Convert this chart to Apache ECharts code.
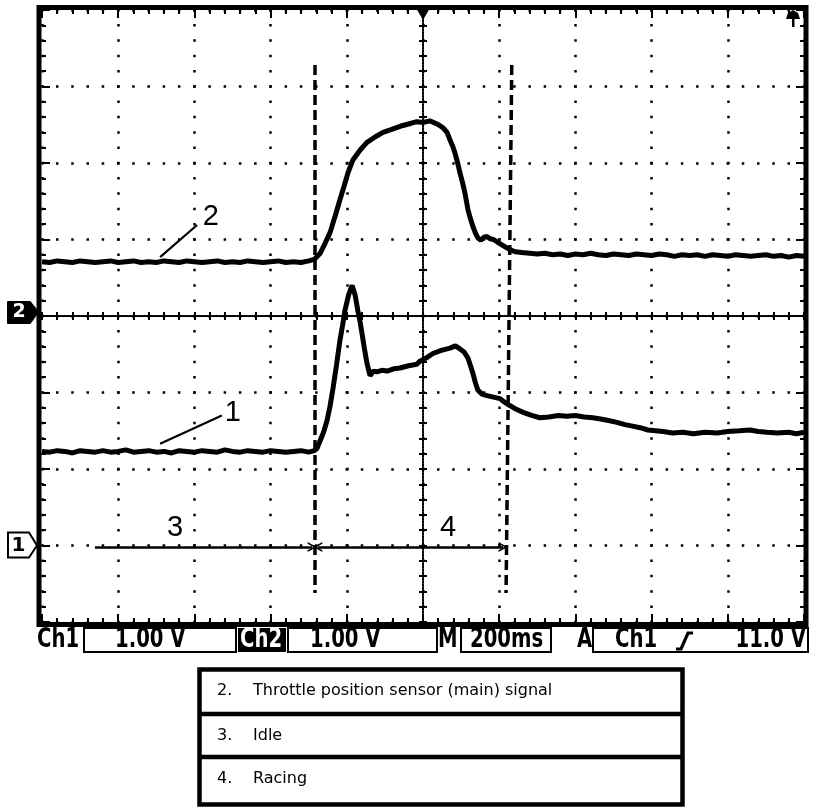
<!DOCTYPE html>
<html><head><meta charset="utf-8">
<script src="https://cdn.jsdelivr.net/npm/echarts@6/dist/echarts.min.js"></script>
<style>html,body{margin:0;padding:0;background:#fff}#c{width:832px;height:808px}</style>
</head><body><div id="c"></div>
<script>
// ---- data (time in ms relative to trigger, values in volts) ----
const msPerDiv = 200;
const voltsPerDiv = 1.0;
const ch1Ground = -3;   // divisions from screen centre
const ch2Ground = 0;

const ch1Trace = [
 [-1000,1.23],[-980,1.22],[-960,1.24],[-940,1.23],[-920,1.21],[-900,1.24],[-880,1.23],[-860,1.22],[-840,1.24],[-820,1.22],
 [-800,1.23],[-780,1.25],[-760,1.22],[-740,1.23],[-720,1.24],[-700,1.22],[-680,1.23],[-660,1.21],[-640,1.24],[-620,1.23],
 [-600,1.22],[-580,1.24],[-560,1.23],[-540,1.22],[-520,1.25],[-500,1.23],[-480,1.22],[-460,1.24],[-440,1.23],[-420,1.22],
 [-400,1.24],[-380,1.23],[-360,1.22],[-340,1.23],[-320,1.24],[-300,1.22],
 [-285,1.24],[-278,1.27],[-270,1.37],[-261,1.48],[-252,1.63],[-244,1.82],[-236,2.06],[-227,2.36],[-218,2.68],[-211,2.88],
 [-205,3.07],[-195,3.28],[-186,3.40],[-178,3.27],[-171,3.07],[-165,2.92],[-160,2.77],[-154,2.58],[-147,2.38],[-139,2.22],
 [-130,2.28],[-121,2.27],[-108,2.29],[-94,2.28],[-77,2.31],[-60,2.32],[-38,2.35],[-16,2.37],[-8,2.41],[8,2.45],
 [26,2.51],[48,2.55],[71,2.58],[85,2.61],[97,2.57],[108,2.53],[118,2.45],[124,2.36],[131,2.25],[138,2.12],
 [144,2.03],[155,1.98],[168,1.96],[185,1.94],[202,1.92],[215,1.87],[228,1.83],[245,1.78],[263,1.74],[285,1.70],
 [307,1.67],[330,1.68],[355,1.70],[378,1.69],[400,1.70],[423,1.68],[446,1.67],[470,1.65],[490,1.63],[509,1.61],
 [530,1.58],[550,1.56],[570,1.54],[590,1.51],[610,1.50],[630,1.49],[655,1.47],[682,1.48],[710,1.46],[740,1.48],
 [772,1.47],[800,1.49],[830,1.50],[858,1.51],[880,1.49],[903,1.48],[930,1.47],[960,1.48],[980,1.46],[1000,1.48]
];

const ch2Trace = [
 [-1000,0.71],[-980,0.70],[-960,0.72],[-940,0.71],[-920,0.70],[-900,0.72],[-880,0.71],[-860,0.70],[-840,0.71],[-820,0.72],
 [-800,0.70],[-780,0.71],[-760,0.72],[-740,0.70],[-720,0.71],[-700,0.70],[-680,0.72],[-660,0.71],[-640,0.70],[-620,0.72],
 [-600,0.71],[-580,0.70],[-560,0.71],[-540,0.72],[-520,0.70],[-500,0.71],[-480,0.70],[-460,0.72],[-440,0.71],[-420,0.70],
 [-400,0.71],[-380,0.72],[-360,0.70],[-340,0.71],[-320,0.70],[-300,0.72],
 [-285,0.74],[-270,0.82],[-257,0.95],[-244,1.09],[-231,1.30],[-218,1.52],[-207,1.70],[-197,1.87],[-184,2.04],[-165,2.17],
 [-147,2.27],[-126,2.34],[-105,2.40],[-82,2.44],[-60,2.48],[-38,2.51],[-16,2.54],[0,2.53],[18,2.55],[37,2.51],
 [53,2.46],[63,2.40],[71,2.30],[78,2.22],[84,2.13],[91,2.00],[97,1.87],[104,1.74],[110,1.61],[118,1.39],
 [124,1.28],[131,1.17],[138,1.08],[144,1.02],[152,0.99],[160,1.03],[168,1.04],[176,1.01],[185,1.00],[194,0.97],
 [207,0.93],[220,0.89],[231,0.86],[242,0.84],[260,0.83],[280,0.82],[300,0.81],
 [320,0.82],[340,0.80],[360,0.81],[380,0.79],[400,0.81],[420,0.80],[440,0.82],[460,0.80],[480,0.79],[500,0.81],
 [520,0.80],[540,0.79],[560,0.81],[580,0.80],[600,0.79],[620,0.81],[640,0.80],[660,0.78],[680,0.80],[700,0.79],
 [720,0.80],[740,0.78],[760,0.80],[780,0.79],[800,0.78],[820,0.80],[840,0.79],[860,0.78],[880,0.79],[900,0.80],
 [920,0.78],[940,0.79],[960,0.77],[980,0.79],[1000,0.78]
];

// cursor (dashed) lines: [time at top, time at bottom], extent in divisions
const cursorTimes = [[-283, -283], [233, 218]];
const cursorExtent = [3.28, -3.62];
// span arrows (idle / racing) in time, at level in divisions
const idleSpan = [-861, -291];
const racingSpan = [-276, 210];
const spanLevel = -3.02;
// number callouts: text, time, level (divisions)
const calloutText = ['1', '2', '3', '4'];
const calloutTime = [-499, -557, -651, 66];
const calloutLevel = [-1.27, 1.29, -2.77, -2.77];
// leader lines: [[t1,lvl1],[t2,lvl2]]
const leaderLines = [[[-690, -1.67], [-528, -1.30]], [[-690, 0.77], [-593, 1.19]]];
// status bar and legend text
const statusCh1 = ['Ch1', '1.00 V'];
const statusCh2 = ['Ch2', '1.00 V'];
const statusTime = ['M', '200ms'];
const statusTrig = ['A', 'Ch1', '11.0 V'];
const legendRows = [['2.', 'Throttle position sensor (main) signal'], ['3.', 'Idle'], ['4.', 'Racing']];

// ---- chart ----
const G = {left: 42, top: 10, width: 762, height: 612};
const chart = echarts.init(document.getElementById('c'), null, {renderer: 'canvas'});
const BLK = '#000';
const arrowHead = 'path://M5,0L10,10L8.3,10L5,3.6L1.7,10L0,10Z';
const statusFont = "bold 26px 'DejaVu Sans Condensed','DejaVu Sans',sans-serif";
const tickSet = (inside, len, mlen) => ({
  axisTick: {show: true, inside: inside, length: len, lineStyle: {color: BLK, width: 2}},
  minorTick: {show: true, splitNumber: 5, length: mlen, lineStyle: {color: BLK, width: 2}}
});
const xBase = {type: 'value', min: -5 * msPerDiv, max: 5 * msPerDiv, interval: msPerDiv, axisLabel: {show: false}, splitLine: {show: false}};
const yBase = {type: 'value', min: -4, max: 4, interval: 1, axisLabel: {show: false}, splitLine: {show: false}};
const noLine = {show: false, onZero: false};
const centreLine = {show: true, onZero: false, lineStyle: {color: BLK, width: 2, type: [1.5, 1.5]}};

const xAxes = [
  Object.assign({}, xBase, {position: 'bottom', axisLine: noLine,
    splitLine: {show: true, lineStyle: {color: BLK, width: 2.5, type: [2.5, 12.8], dashOffset: 1.25}}}, tickSet(true, 8, 4)),
  Object.assign({}, xBase, {position: 'top', axisLine: noLine}, tickSet(true, 8, 4)),
  Object.assign({}, xBase, {position: 'bottom', offset: -G.height / 2, axisLine: centreLine}, tickSet(true, 4, 4)),
  Object.assign({}, xBase, {position: 'bottom', offset: -G.height / 2, axisLine: noLine}, tickSet(false, 4, 4))
];
const yAxes = [
  Object.assign({}, yBase, {position: 'left', axisLine: noLine,
    splitLine: {show: true, lineStyle: {color: BLK, width: 2.5, type: [2.5, 12.74], dashOffset: 1.25}}}, tickSet(true, 8, 4)),
  Object.assign({}, yBase, {position: 'right', axisLine: noLine}, tickSet(true, 8, 4)),
  Object.assign({}, yBase, {position: 'left', offset: -G.width / 2, axisLine: centreLine}, tickSet(true, 4, 4)),
  Object.assign({}, yBase, {position: 'left', offset: -G.width / 2, axisLine: noLine}, tickSet(false, 4, 4))
];

const toScreen = (trace, ground) => trace.map(p => [p[0], ground + p[1] / voltsPerDiv]);

const option = {
  animation: false,
  backgroundColor: '#fff',
  grid: {left: G.left, top: G.top, width: G.width, height: G.height, show: false, containLabel: false},
  xAxis: xAxes,
  yAxis: yAxes,
  series: [
    {type: 'line', name: 'Ch2', xAxisIndex: 0, yAxisIndex: 0, data: toScreen(ch2Trace, ch2Ground),
     showSymbol: false, lineStyle: {color: BLK, width: 5}, z: 5},
    {type: 'line', name: 'Ch1', xAxisIndex: 0, yAxisIndex: 0, data: toScreen(ch1Trace, ch1Ground),
     showSymbol: false, lineStyle: {color: BLK, width: 5}, z: 5},
    {type: 'line', name: 'cursors', xAxisIndex: 0, yAxisIndex: 0, data: [], z: 4,
     markLine: {silent: true, symbol: 'none', label: {show: false},
       lineStyle: {color: BLK, width: 3.5, type: [10, 5]},
       data: cursorTimes.map(c => [{coord: [c[0], cursorExtent[0]]}, {coord: [c[1], cursorExtent[1]]}])}},
    {type: 'line', name: 'spans', xAxisIndex: 0, yAxisIndex: 0, data: [], z: 6,
     markLine: {silent: true, label: {show: false}, symbolSize: [10, 9],
       lineStyle: {color: BLK, width: 2.5, type: 'solid'},
       data: [
         [{coord: [idleSpan[0], spanLevel], symbol: 'none'}, {coord: [idleSpan[1], spanLevel], symbol: arrowHead}],
         [{coord: [racingSpan[0], spanLevel], symbol: arrowHead}, {coord: [racingSpan[1], spanLevel], symbol: arrowHead}]
       ]}},
    {type: 'line', name: 'leaders', xAxisIndex: 0, yAxisIndex: 0, data: [], z: 6,
     markLine: {silent: true, symbol: 'none', label: {show: false},
       lineStyle: {color: BLK, width: 2.2, type: 'solid'},
       data: leaderLines.map(l => [{coord: l[0]}, {coord: l[1]}])}},
    {type: 'scatter', name: 'callouts', xAxisIndex: 0, yAxisIndex: 0, symbolSize: 0, itemStyle: {color: '#000', opacity: 1}, z: 7,
     label: {show: true, position: 'inside', formatter: '{b}', color: '#000', textBorderWidth: 0, opacity: 1,
       fontSize: 29, fontFamily: 'Liberation Sans, Arial, sans-serif'},
     data: calloutText.map((t, i) => ({name: t, value: [calloutTime[i], calloutLevel[i]]}))}
  ]
};
chart.setOption(option);

// ---- decorations (oscilloscope frame, markers, status bar, legend table) ----
const px = (t, lvl) => chart.convertToPixel({xAxisIndex: 0, yAxisIndex: 0}, [t, lvl]);
const g1 = px(0, ch1Ground)[1];
const g2 = px(0, ch2Ground)[1];
const trigX = px(0, 0)[0];
const txt = (x, y, s, font, align, color, sx) => ({type: 'text', z: 120, x: x, y: y, scaleX: sx || 1,
  style: {text: s, font: font, fill: color || BLK, align: align || 'left', verticalAlign: 'middle'}});
const stxt = (x, s, align, color) => txt(x, 640, s, statusFont, align, color, 0.84);
const box = (x, y, w, h, lw, fill) => ({type: 'rect', z: 110, shape: {x: x, y: y, width: w, height: h},
  style: {fill: fill || 'none', stroke: BLK, lineWidth: lw}});
const graphics = [
  // frame
  box(G.left - 3, G.top - 2.5, G.width + 5, G.height + 5, 5),
  // trigger position marker
  {type: 'polygon', z: 120, shape: {points: [[trigX - 7, 8], [trigX + 7, 8], [trigX, 20]]}, style: {fill: BLK}},
  // trigger level marker (top right)
  {type: 'polygon', z: 120, shape: {points: [[786, 19], [788, 13], [793, 10], [798, 13], [800, 19]]}, style: {fill: BLK}},
  {type: 'rect', z: 120, shape: {x: 792, y: 17, width: 2.5, height: 10}, style: {fill: BLK}},
  // channel 2 ground marker (filled)
  {type: 'polygon', z: 120, shape: {points: [[8, g2 - 14], [30, g2 - 14], [38, g2 - 4], [30, g2 + 7], [8, g2 + 7]]},
   style: {fill: BLK, stroke: BLK, lineWidth: 2, lineJoin: 'round'}},
  txt(19, g2 - 3.5, '2', "bold 19px 'DejaVu Sans',sans-serif", 'center', '#fff'),
  // channel 1 ground marker (outline)
  {type: 'polygon', z: 120, shape: {points: [[8, g1 - 13], [29, g1 - 13], [37, g1], [29, g1 + 12], [8, g1 + 12]]},
   style: {fill: '#fff', stroke: BLK, lineWidth: 2}},
  txt(18.5, g1, '1', "bold 20px 'DejaVu Sans',sans-serif", 'center'),
  // status bar
  stxt(37, statusCh1[0]),
  box(84, 628, 152, 24, 2),
  stxt(115, statusCh1[1]),
  {type: 'rect', z: 110, shape: {x: 238, y: 628, width: 48, height: 24}, style: {fill: BLK}},
  stxt(240, statusCh2[0], 'left', '#fff'),
  box(288, 628, 149, 24, 2),
  stxt(310, statusCh2[1]),
  stxt(438, statusTime[0]),
  box(461, 628, 90, 24, 2),
  stxt(470, statusTime[1]),
  stxt(577, statusTrig[0]),
  box(593, 628, 215, 24, 2),
  stxt(615, statusTrig[1]),
  {type: 'polyline', z: 120, shape: {points: [[676, 649], [681, 649], [688, 633], [693, 633]]}, style: {stroke: BLK, lineWidth: 3.2, fill: 'none'}},
  stxt(806, statusTrig[2], 'right'),
  // legend table
  box(199.5, 669.5, 483, 135, 4.5),
  {type: 'line', z: 110, shape: {x1: 199.5, y1: 714, x2: 682.5, y2: 714}, style: {stroke: BLK, lineWidth: 4.5}},
  {type: 'line', z: 110, shape: {x1: 199.5, y1: 757, x2: 682.5, y2: 757}, style: {stroke: BLK, lineWidth: 4.5}}
];
const rowY = [691, 736, 779];
legendRows.forEach((r, i) => {
  graphics.push(txt(217, rowY[i], r[0], "16px 'DejaVu Sans',Verdana,sans-serif"));
  graphics.push(txt(253, rowY[i], r[1], "16px 'DejaVu Sans',Verdana,sans-serif"));
});
chart.setOption({graphic: {elements: graphics}});
</script></body></html>
